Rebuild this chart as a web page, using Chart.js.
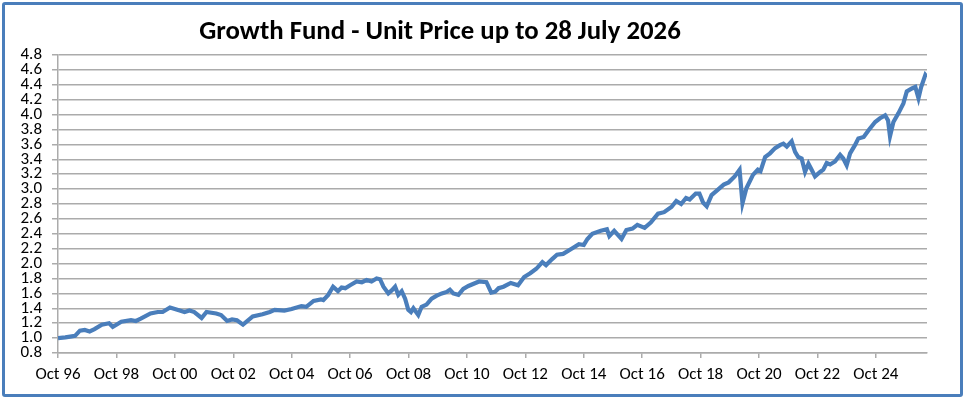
<!DOCTYPE html>
<html>
<head>
<meta charset="utf-8">
<script src="https://cdn.jsdelivr.net/npm/chart.js@4.4.1/dist/chart.umd.min.js"></script>
<style>
  html, body { margin: 0; padding: 0; background: #ffffff; }
  #wrap { position: relative; width: 967px; height: 400px; overflow: hidden; }
  #frame { position: absolute; left: 2px; top: 2px; width: 961px; height: 395px; box-sizing: border-box;
           border: 3px solid #4A7EBB; border-radius: 3px; pointer-events: none; }
  canvas { position: absolute; left: 0; top: 0; }
</style>
</head>
<body>
<div id="wrap">
  <canvas id="c" width="967" height="400"></canvas>
  <div id="frame"></div>
</div>
<script>
// Months since Oct 1996 (0 = Oct 96, 357 = Jul 2026)
const months = [
  0, 3, 5, 7, 9, 11, 13, 15, 18, 21,
  22.5, 26, 30, 32, 34, 38, 41, 43, 46, 50,
  52, 54, 56, 59, 61, 65, 67, 69.5, 71.5, 73.5,
  76, 80, 84, 87, 89, 93, 96, 100, 102, 105,
  108, 109, 111, 113, 115, 116.5, 118, 120, 122.7, 124.8,
  126.8, 128.8, 130.9, 132.3, 133.7, 135.7, 137.1, 138.5, 139.8, 141.2,
  142.6, 143.9, 145, 146, 148, 149.4, 151.4, 153.5, 155.6, 157.7,
  159.7, 161, 162.4, 164.5, 166.5, 168.6, 173, 176, 178, 179.5,
  181, 183, 186, 189, 191.5, 194, 196.5, 199, 200.5, 203,
  205, 207.5, 211, 214, 216, 217.5, 219.5, 223, 225.5, 226.5,
  228.5, 231.5, 233.5, 236, 238, 241, 243.5, 246.5, 249, 252,
  254, 256, 258, 259.5, 262, 263.5, 265, 266.5, 268.5, 271,
  273.5, 275.5, 278, 280, 281.2, 282.8, 285.5, 287.5, 288.6, 290.5,
  292.5, 294.6, 296.6, 298, 299.4, 301.4, 302.8, 304.1, 305.5, 306.9,
  308.3, 309.6, 311, 313.1, 314.4, 315.8, 317.2, 319.2, 321.3, 322.6,
  324, 325.4, 327.4, 328.8, 331, 333, 335.7, 337.7, 339.8, 341,
  341.8, 343.2, 345.3, 347.3, 348.7, 350.8, 352.2, 353.5, 354.6, 356.3,
  357
];
const prices = [
  1.00, 1.01, 1.02, 1.03, 1.10, 1.11, 1.09, 1.12, 1.18, 1.20,
  1.15, 1.22, 1.24, 1.23, 1.26, 1.33, 1.35, 1.35, 1.41, 1.37,
  1.35, 1.37, 1.35, 1.27, 1.35, 1.33, 1.31, 1.23, 1.25, 1.24,
  1.18, 1.29, 1.32, 1.35, 1.38, 1.37, 1.39, 1.43, 1.42, 1.50,
  1.52, 1.51, 1.58, 1.69, 1.63, 1.68, 1.67, 1.71, 1.76, 1.75,
  1.78, 1.76, 1.80, 1.79, 1.69, 1.60, 1.64, 1.69, 1.58, 1.63,
  1.53, 1.38, 1.35, 1.40, 1.31, 1.42, 1.45, 1.53, 1.57, 1.60,
  1.62, 1.65, 1.60, 1.58, 1.66, 1.70, 1.76, 1.75, 1.61, 1.62,
  1.67, 1.69, 1.74, 1.71, 1.82, 1.87, 1.93, 2.02, 1.98, 2.06,
  2.12, 2.13, 2.20, 2.26, 2.25, 2.33, 2.40, 2.44, 2.46, 2.37,
  2.44, 2.33, 2.45, 2.47, 2.52, 2.48, 2.55, 2.67, 2.69, 2.76,
  2.84, 2.80, 2.88, 2.86, 2.94, 2.94, 2.82, 2.77, 2.92, 2.99,
  3.06, 3.09, 3.17, 3.26, 2.81, 3.01, 3.19, 3.26, 3.24, 3.43,
  3.48, 3.55, 3.59, 3.61, 3.57, 3.64, 3.50, 3.43, 3.41, 3.23,
  3.34, 3.26, 3.17, 3.23, 3.26, 3.35, 3.33, 3.37, 3.46, 3.41,
  3.32, 3.48, 3.59, 3.68, 3.70, 3.79, 3.90, 3.95, 3.99, 3.92,
  3.71, 3.90, 4.02, 4.15, 4.31, 4.35, 4.37, 4.22, 4.37, 4.53,
  4.50
];
const tickMonths = [0, 24, 48, 72, 96, 120, 144, 168, 192, 216, 240, 264, 288, 312, 336];
const tickLabels = ['Oct 96', 'Oct 98', 'Oct 00', 'Oct 02', 'Oct 04', 'Oct 06', 'Oct 08', 'Oct 10',
                    'Oct 12', 'Oct 14', 'Oct 16', 'Oct 18', 'Oct 20', 'Oct 22', 'Oct 24'];
const titleText = 'Growth Fund - Unit Price up to 28 July 2026';

const points = months.map((m, i) => ({ x: m, y: prices[i] }));
const FONT = "Carlito, Lato, 'Open Sans', sans-serif";
const GRID = '#ABABAB';

new Chart(document.getElementById('c'), {
  type: 'line',
  data: {
    datasets: [{
      data: points,
      borderColor: '#4A7EBB',
      borderWidth: 4.2,
      pointRadius: 0,
      tension: 0,
      fill: false
    }]
  },
  options: {
    responsive: false,
    animation: false,
    devicePixelRatio: 1,
    layout: { padding: { left: -47, right: 40, top: 0, bottom: 0 } },
    plugins: {
      legend: { display: false },
      tooltip: { enabled: false },
      title: {
        display: true,
        text: titleText,
        color: '#000000',
        font: { family: FONT, size: 26.8, weight: 'bold', lineHeight: 1.2 },
        padding: { top: 16, bottom: 6.8 }
      }
    },
    scales: {
      x: {
        type: 'linear',
        min: 0,
        max: 357,
        afterBuildTicks: (scale) => { scale.ticks = tickMonths.map(v => ({ value: v })); },
        afterFit: (scale) => { scale.height = 47; },
        ticks: {
          autoSkip: false,
          maxRotation: 0,
          padding: 7,
          color: '#000000',
          font: { family: FONT, size: 17 },
          callback: (v) => { const i = tickMonths.indexOf(v); return i >= 0 ? tickLabels[i] : ''; }
        },
        grid: { drawOnChartArea: false, drawTicks: true, tickLength: 5, color: GRID, lineWidth: 1.5 },
        border: { display: true, color: GRID, width: 1.5 }
      },
      y: {
        min: 0.8,
        max: 4.8,
        afterFit: (scale) => { scale.width = 105; },
        ticks: {
          stepSize: 0.2,
          autoSkip: false,
          padding: 10,
          color: '#000000',
          font: { family: FONT, size: 17 },
          callback: (v) => Number(v).toFixed(1)
        },
        grid: { color: GRID, lineWidth: 1.5, tickLength: 6 },
        border: { display: true, color: GRID, width: 1.5 }
      }
    }
  }
});
</script>
</body>
</html>
